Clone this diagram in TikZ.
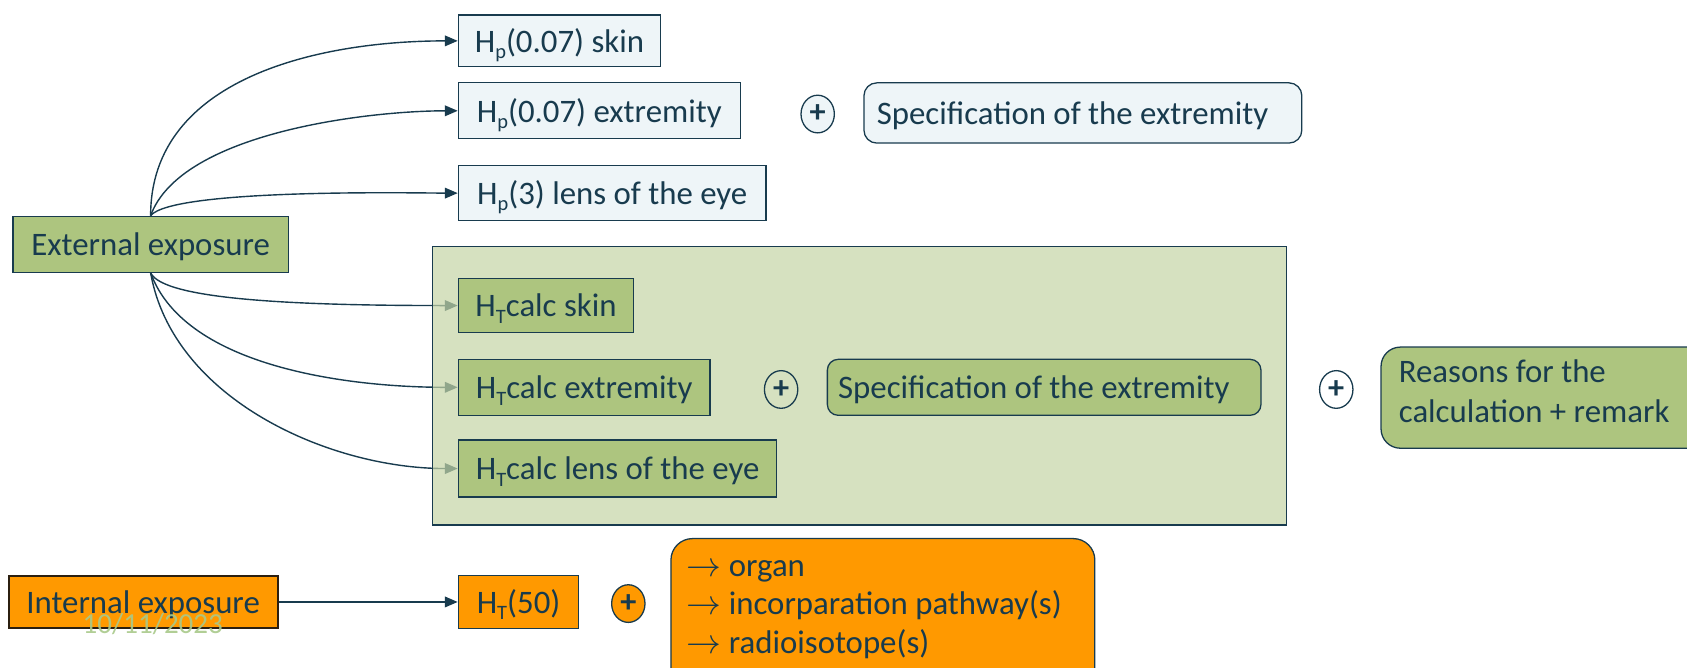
\documentclass[tikz,border=0pt]{standalone}
\usepackage{fontspec}
\setmainfont{Carlito}
\usetikzlibrary{arrows.meta,shapes.geometric}
\definecolor{ink}{HTML}{183B4E}
\definecolor{paleblue}{HTML}{EEF5F8}
\definecolor{calcgreen}{HTML}{ADC57F}
\definecolor{grpgreen}{HTML}{C4D4A5}
\definecolor{orangef}{HTML}{FF9900}
\definecolor{brownline}{HTML}{2B1F10}
\definecolor{datecol}{HTML}{A8C98A}
\pgfdeclarelayer{bg}\pgfdeclarelayer{mid}\pgfsetlayers{bg,mid,main}
\newcommand{\subsc}[1]{\raisebox{-0.42ex}{\fontsize{19}{19}\selectfont #1}}
\newcommand{\arr}{\scalebox{1.3}{$\rightarrow$}}
\begin{document}
\begin{tikzpicture}[x=1pt,y=-1pt, font=\fontsize{30.5}{36}\selectfont, text=ink,
  box/.style={draw=ink, line width=1.2pt, inner sep=0pt, minimum height=50pt, text height=27pt, text depth=6pt},
  bluebox/.style={box, fill=paleblue},
  greenbox/.style={box, fill=calcgreen},
  orangebox/.style={box, fill=orangef},
  plusmark/.style={ellipse, draw=ink, line width=1.2pt, inner sep=0pt, minimum width=31pt, minimum height=35pt, font=\fontsize{30}{30}\selectfont\bfseries},
  conn/.style={draw=ink, line width=1.3pt, -{Triangle[length=12pt,width=10pt]}}
]
\useasboundingbox (0,0) rectangle (1568,620);
\clip (0,0) rectangle (1568,620);

% top group
\node[bluebox, minimum width=188pt, minimum height=48pt] (hps) at (520,38) {H\subsc{p}(0.07) skin};
\node[bluebox, minimum width=262pt, minimum height=52pt] (hpe) at (557,103) {H\subsc{p}(0.07) extremity};
\node[plusmark, fill=paleblue] (p1) at (760,106) {+};
\node[bluebox, rounded corners=12pt, minimum height=56pt, minimum width=407pt] (spec1) at (1006.5,105) {\makebox[383pt][l]{Specification of the extremity}};
\node[bluebox, minimum width=286pt, minimum height=51pt] (hpl) at (569,179.5) {H\subsc{p}(3) lens of the eye};

\node[greenbox, minimum width=256pt, minimum height=52pt] (ext) at (140,227) {External exposure};

% calc group
\begin{pgfonlayer}{mid}
\node[draw=ink, line width=1.2pt, fill=grpgreen, fill opacity=0.7, minimum width=794pt, minimum height=259pt, inner sep=0pt] (grp) at (799,358.5) {};
\end{pgfonlayer}
\node[greenbox, minimum width=163pt, minimum height=50pt] (hts) at (507.5,284) {H\subsc{T}calc skin};
\node[greenbox, minimum width=234pt, minimum height=52pt] (hte) at (543,360) {H\subsc{T}calc extremity};
\node[plusmark] (p2) at (726,362) {+};
\node[greenbox, rounded corners=10pt, minimum height=52pt, minimum width=403pt] (spec2) at (970.5,360) {\makebox[383pt][l]{Specification of the extremity}};
\node[greenbox, minimum width=296pt, minimum height=53pt] (htl) at (574,435.5) {H\subsc{T}calc lens of the eye};
\node[plusmark, fill=white] (p3) at (1242,362) {+};
\node[greenbox, rounded corners=18pt, minimum width=330pt, minimum height=94pt, anchor=north west] (reasonsbox) at (1283,322) {};
\node[anchor=north west, align=left, inner sep=0pt, font=\fontsize{30.5}{37}\selectfont] (reasons) at (1300,334) {Reasons for the\\calculation + remark};

% internal
\node[box, fill=orangef, draw=brownline, line width=2pt, minimum width=250pt, minimum height=49pt] (int) at (133,559.5) {Internal exposure};
\node[orangebox, minimum width=112pt, minimum height=49pt] (ht50) at (482,559.5) {H\subsc{T}(50)};
\node[plusmark, fill=orangef] (p4) at (584,561) {+};
\node[orangebox, rounded corners=20pt, minimum width=394pt, minimum height=140pt, anchor=north west, text height=, text depth=] (organbox) at (623,500) {};
\node[anchor=north west, align=left, inner sep=0pt, font=\fontsize{30.5}{35.5}\selectfont] (organ) at (638,521) {\arr\ organ\\\arr\ incorparation pathway(s)\\\arr\ radioisotope(s)};

\node[text=datecol, text opacity=0.9, inner sep=0pt, font=\fontsize{27}{30}\selectfont] (date) at (142,580) {10/11/2023};

% connectors
\begin{pgfonlayer}{bg}
\draw[conn] (ext.north) to[out=90,in=180] (hps.west);
\draw[conn] (ext.north) to[out=70,in=180,looseness=0.7] (hpe.west);
\draw[conn] (ext.north) to[out=50,in=180,looseness=0.3] (hpl.west);
\draw[conn] (ext.south) .. controls +(12,25) and +(-150,0) .. (hts.west);
\draw[conn] (ext.south) to[out=-70,in=180,looseness=0.8] (hte.west);
\draw[conn] (ext.south) to[out=-80,in=180,looseness=0.9] (htl.west);
\draw[conn] (int.east) -- (ht50.west);
\end{pgfonlayer}
\end{tikzpicture}
\end{document}
